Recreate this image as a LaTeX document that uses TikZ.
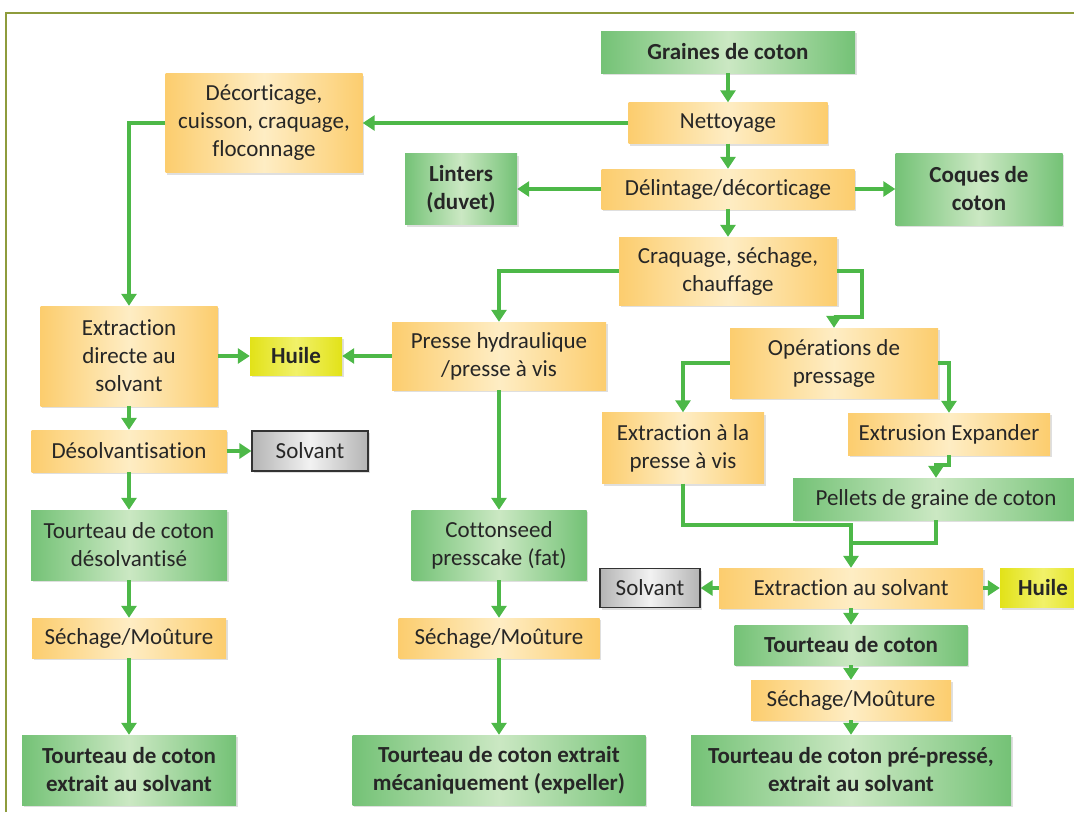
\documentclass[tikz,border=0pt]{standalone}
\usepackage{fontspec}
\setmainfont[Ligatures=NoCommon]{Carlito}
\usetikzlibrary{arrows.meta,shadows}

\definecolor{flowgreen}{HTML}{4DB848}
\definecolor{framegreen}{HTML}{8E9C3C}
\definecolor{textgray}{HTML}{262626}
\definecolor{greenE}{HTML}{74C276}
\definecolor{greenM}{HTML}{CBE8C3}
\definecolor{orangeE}{HTML}{FCCD6E}
\definecolor{orangeM}{HTML}{FEEDC4}
\definecolor{greyE}{HTML}{B4B4B4}
\definecolor{greyM}{HTML}{F2F2F2}
\definecolor{yellowE}{HTML}{E2E218}
\definecolor{yellowM}{HTML}{F1F16A}

\begin{document}
\begin{tikzpicture}[
    x=1pt, y=-1pt,
    box/.style={rectangle, inner sep=2pt, align=center, text=textgray,
        font=\fontsize{23}{28}\selectfont,
        drop shadow={opacity=0.25, shadow xshift=1.5pt, shadow yshift=-2pt}},
    bold/.style={font=\fontsize{23}{28}\selectfont\bfseries},
    dims/.style 2 args={minimum width=#1pt, minimum height=#2pt},
    prod/.style={box, left color=greenE, right color=greenE, middle color=greenM},
    proc/.style={box, left color=orangeE, right color=orangeE, middle color=orangeM},
    solv/.style={box, left color=greyE, right color=greyE, middle color=greyM,
        draw=black!80, line width=1.2pt},
    oil/.style={box, left color=yellowE, right color=yellowE, middle color=yellowM},
    flow/.style={->, draw=flowgreen, line width=3.6pt},
    link/.style={draw=flowgreen, line width=3.6pt},
    >={Triangle[length=12pt,width=15pt]}
]
    \useasboundingbox (0,0) rectangle (1074,812);
    \draw[framegreen, line width=2pt] (6,812) -- (6,13) -- (1074,13);

    % Main column
    \node[prod, bold, dims={254}{42}] (graines) at (728,52) {Graines de coton};
    \node[proc, dims={199}{41}] (nettoyage) at (728,123) {Nettoyage};
    \node[proc, dims={253}{40}] (delint) at (728,189) {Délintage/décorticage};
    \node[proc, dims={218}{68}] (craquage) at (728,271) {Craquage, séchage,\\chauffage};
    \node[prod, bold, dims={112}{71}] (linters) at (461,189) {Linters\\(duvet)};
    \node[prod, bold, dims={167}{72}] (coques) at (979,189) {Coques de\\coton};

    % Left column
    \node[proc, dims={197}{99}] (decort) at (264,123) {Décorticage,\\cuisson, craquage,\\floconnage};
    \node[proc, dims={177}{100}] (extrdir) at (129,356) {Extraction\\directe au\\solvant};
    \node[oil, bold, dims={92}{38}] (huileL) at (296,356) {Huile};
    \node[proc, dims={195}{42}] (desolv) at (129,451) {Désolvantisation};
    \node[solv, dims={116}{40}] (solvL) at (310,451) {Solvant};
    \node[prod, dims={196}{70}] (tourdesolv) at (129,545) {Tourteau de coton\\désolvantisé};
    \node[proc, dims={194}{40}] (sechL) at (129,638) {Séchage/Moûture};
    \node[prod, bold, dims={214}{70}] (finalL) at (129,770) {Tourteau de coton\\extrait au solvant};

    % Middle column
    \node[proc, dims={214}{68}] (presse) at (499,356) {Presse hydraulique\\/presse à vis};
    \node[prod, dims={175}{70}] (cotton) at (499,545) {Cottonseed\\presscake (fat)};
    \node[proc, dims={201}{40}] (sechM) at (499,638) {Séchage/Moûture};
    \node[prod, bold, dims={293}{70}] (finalM) at (499,770) {Tourteau de coton extrait\\mécaniquement (expeller)};

    % Right column
    \node[proc, dims={208}{70}] (operations) at (834,363) {Opérations de\\pressage};
    \node[proc, dims={162}{71}] (extrpresse) at (683,448) {Extraction à la\\presse à vis};
    \node[proc, dims={202}{42}] (extrusion) at (949,434) {Extrusion Expander};
    \node[prod, dims={286}{42}] (pellets) at (936,499) {Pellets de graine de coton};
    \node[proc, dims={264}{40}] (extrsolv) at (851,588) {Extraction au solvant};
    \node[solv, dims={100}{39}] (solvR) at (650,588) {Solvant};
    \node[oil, bold, dims={86}{39}] (huileR) at (1043,588) {Huile};
    \node[prod, bold, dims={233}{40}] (tourR) at (851,645) {Tourteau de coton};
    \node[proc, dims={200}{40}] (sechR) at (851,700) {Séchage/Moûture};
    \node[prod, bold, dims={320}{70}] (finalR) at (851,770) {Tourteau de coton pré-pressé,\\extrait au solvant};

    \coordinate (join) at (851,525);
    \coordinate (join2) at (851,543);

    % Connectors
    \draw[flow] (graines) -- (nettoyage);
    \draw[flow] (nettoyage) -- (delint);
    \draw[flow] (nettoyage) -- (decort);
    \draw[flow] (delint) -- (linters);
    \draw[flow] (delint) -- (coques);
    \draw[flow] (delint) -- (craquage);
    \draw[flow] (decort.west) -| (extrdir.north);
    \draw[flow] (craquage.west) -| (presse.north);
    \draw[flow] (craquage.east) -| (862,317) -| (operations.north);

    \draw[flow] (extrdir) -- (huileL);
    \draw[flow] (presse) -- (huileL);
    \draw[flow] (extrdir) -- (desolv);
    \draw[flow] (desolv) -- (solvL);
    \draw[flow] (desolv) -- (tourdesolv);
    \draw[flow] (tourdesolv) -- (sechL);
    \draw[flow] (sechL) -- (finalL);

    \draw[flow] (presse) -- (cotton);
    \draw[flow] (cotton) -- (sechM);
    \draw[flow] (sechM) -- (finalM);

    \draw[flow] (operations.west) -| (extrpresse.north);
    \draw[flow] (operations.east) -| (extrusion.north);
    \draw[flow] (extrusion.south) -- ++(0,10) -| (pellets.north);
    \draw[flow] (extrpresse.south) |- (join) -- (extrsolv.north);
    \draw[link] (pellets.south) |- (join2);
    \draw[flow] (extrsolv) -- (solvR);
    \draw[flow] (extrsolv) -- (huileR);
    \draw[flow] (extrsolv) -- (tourR);
    \draw[flow] (tourR) -- (sechR);
    \draw[flow] (sechR) -- (finalR);
\end{tikzpicture}
\end{document}
